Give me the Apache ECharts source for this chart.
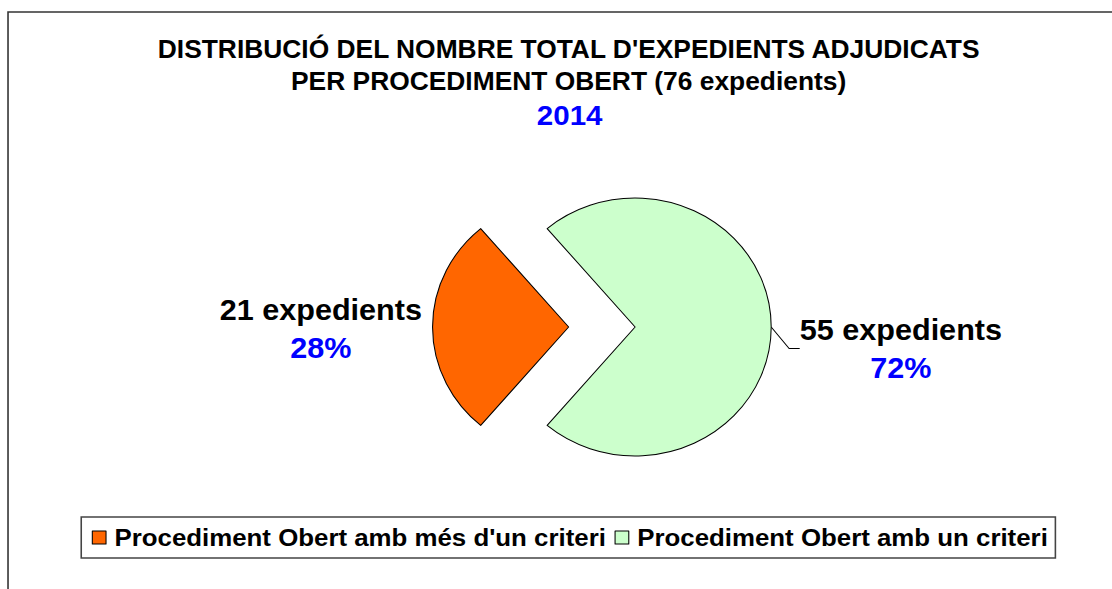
<!DOCTYPE html>
<html>
<head>
<meta charset="utf-8">
<script src="https://cdn.jsdelivr.net/npm/echarts@6/dist/echarts.min.js"></script>
<style>
    html, body {margin: 0; padding: 0; overflow: hidden; background: #fff;}
    /* the original picture is slightly stretched sideways */
    #chart {width: 1054px; height: 589px; transform: scaleX(1.055); transform-origin: 0 0;}
</style>
</head>
<body>
<div id="chart"></div>
<script>
const categories = ["Procediment Obert amb més d'un criteri", 'Procediment Obert amb un criteri'];
const counts = [21, 55];
const colors = ['#FF6600', '#CCFFCC'];
const titleLines = ["DISTRIBUCIÓ DEL NOMBRE TOTAL D'EXPEDIENTS ADJUDICATS", 'PER PROCEDIMENT OBERT (76 expedients)'];
const year = '2014';

const font = '"Liberation Sans", Arial, sans-serif';
const chart = echarts.init(document.getElementById('chart'), null, {renderer: 'svg'});

const data = categories.map((name, i) => ({
    name,
    value: counts[i],
    itemStyle: {color: colors[i]},
    selected: i === 0,
    labelLine: i === 0 ? {show: false, length: 2, length2: 3} : {},
}));

chart.setOption({
    animation: false,
    textStyle: {fontFamily: font},
    title: [
        {
            text: titleLines.join('\n'),
            left: 534,
            textAlign: 'center',
            top: 28,
            textStyle: {fontSize: 25, fontWeight: 'bold', color: '#000', lineHeight: 32, fontFamily: font},
        },
        {
            text: year,
            left: 535,
            textAlign: 'center',
            top: 94,
            textStyle: {fontSize: 28, fontWeight: 'bold', color: '#0000FF', lineHeight: 32, fontFamily: font},
        },
    ],
    legend: {
        left: 77,
        top: 517,
        padding: [8, 7, 8, 10],
        borderColor: '#444',
        borderWidth: 1.5,
        itemWidth: 13,
        itemHeight: 13,
        itemGap: 8,
        icon: 'rect',
        selectedMode: false,
        itemStyle: {borderColor: '#000', borderWidth: 1},
        textStyle: {fontSize: 24.5, fontWeight: 'bold', color: '#000', fontFamily: font, padding: [0, 0, 0, 3]},
        data: categories,
    },
    graphic: [
        {
            type: 'rect',
            shape: {x: 7.6, y: 12, width: 2000, height: 1000},
            style: {fill: 'none', stroke: '#333', lineWidth: 1.5},
            silent: true,
        },
    ],
    series: [
        {
            type: 'pie',
            center: [602, 327],
            radius: 129,
            startAngle: 90 + 360 * counts[0] / (counts[0] + counts[1]) / 2 + 90,
            clockwise: true,
            selectedMode: 'single',
            selectedOffset: 63,
            itemStyle: {borderColor: '#000', borderWidth: 1},
            emphasis: {disabled: true},
            label: {
                position: 'outside',
                formatter: p => `{a|${p.value} expedients}\n{b|${Math.round(p.percent)}%}`,
                rich: {
                    a: {fontSize: 29, fontWeight: 'bold', color: '#000', lineHeight: 38, align: 'center', fontFamily: font},
                    b: {fontSize: 29, fontWeight: 'bold', color: '#0000FF', lineHeight: 38, align: 'center', fontFamily: font},
                },
            },
            labelLine: {length: 12, length2: 10, lineStyle: {color: '#000', width: 1}},
            labelLayout: p => (p.dataIndex === 1
                ? {x: p.labelRect.x, y: p.labelRect.y + 17, align: 'left', verticalAlign: 'top'}
                : {dy: 2}),
            data,
        },
    ],
});
</script>
</body>
</html>
